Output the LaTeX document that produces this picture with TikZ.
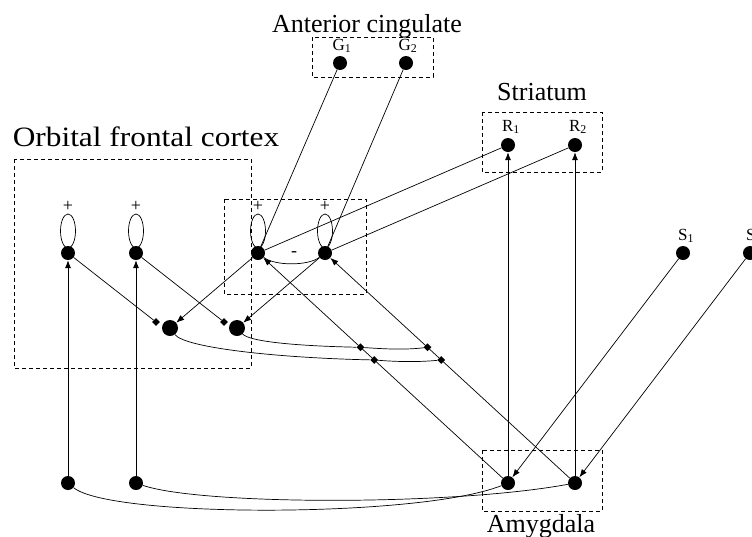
\documentclass[tikz,border=0pt]{standalone}
\usepackage{fontspec}
\setmainfont{Liberation Serif}
\usetikzlibrary{arrows.meta,shapes.geometric,calc}
\begin{document}
\begin{tikzpicture}[x=1pt,y=-1pt,
  cell/.style={circle,fill=black,inner sep=0pt,minimum size=14pt},
  bigcell/.style={circle,fill=black,inner sep=0pt,minimum size=16pt},
  syn/.style={diamond,fill=black,inner sep=0pt,minimum size=8pt},
  conn/.style={line width=0.7pt},
  arr/.style={conn,-{Latex[length=8pt,width=6pt]}},
  region/.style={draw,line width=0.8pt,dash pattern=on 4pt off 3pt},
  areatitle/.style={font=\fontsize{26}{26}\selectfont,inner sep=0pt,anchor=base},
  cellname/.style={font=\fontsize{17}{17}\selectfont,inner sep=0pt},
  sign/.style={font=\fontsize{18}{18}\selectfont,inner sep=0pt}
]
\useasboundingbox (0,0) rectangle (752,536);

% regions
\draw[region] (312,37) rectangle (433,77);
\draw[region] (482,112) rectangle (602,172);
\draw[region] (14,159) rectangle (251,368);
\draw[region] (224,199) rectangle (366,294);
\draw[region] (482,450) rectangle (602,511);

\node[areatitle] (tAC) at (367,32) {Anterior cingulate};
\node[areatitle] (tSt) at (542,100) {Striatum};
\node[areatitle,font=\fontsize{28}{28}\selectfont,xscale=1.12] (tOFC) at (146,146) {Orbital frontal cortex};
\node[areatitle] (tAm) at (541,532) {Amygdala};

% cells
\node[cell] (A1) at (68,253) {};
\node[cell] (A2) at (136,253) {};
\node[cell] (B1) at (258,253) {};
\node[cell] (B2) at (325,253) {};
\node[cell] (G1) at (340,63) {};
\node[cell] (G2) at (406,63) {};
\node[cell] (R1) at (508,145) {};
\node[cell] (R2) at (575,145) {};
\node[cell] (S1) at (683,253) {};
\node[cell] (S2) at (750,253) {};
\node[cell] (Am1) at (508,483) {};
\node[cell] (Am2) at (575,483) {};
\node[cell] (C1) at (68,483) {};
\node[cell] (C2) at (136,483) {};
\node[bigcell] (D1) at (170,328) {};
\node[bigcell] (D2) at (237,328) {};
\node[syn] (a1d) at (156,322) {};
\node[syn] (a2d) at (224,322) {};

% cell names
\node[cellname] (lG1) at (342,46) {G\textsubscript{1}};
\node[cellname] (lG2) at (408,46) {G\textsubscript{2}};
\node[cellname] (lR1) at (511,127) {R\textsubscript{1}};
\node[cellname] (lR2) at (578,127) {R\textsubscript{2}};
\node[cellname] (lS1) at (686,236) {S\textsubscript{1}};
\node[cellname] (lS2) at (754,236) {S\textsubscript{2}};

% self-excitatory loops
\foreach \c/\n in {A1/1,A2/2,B1/3,B2/4}{
  \draw[conn] ($(\c)+(0,-22)$) ellipse [x radius=7.5pt, y radius=17pt];
  \node[sign] (plus\n) at ($(\c)+(0,-47)$) {+};
}
\draw[conn] (B1) .. controls (275,266) and (308,266) .. (B2);
\node[sign] (minus) at (294,254) {-};

% connections
\draw[arr] (C1) -- (A1);
\draw[arr] (C2) -- (A2);
\draw[arr] (Am1) -- (R1);
\draw[arr] (Am2) -- (R2);
\draw[conn] (A1) -- (a1d);
\draw[conn] (A2) -- (a2d);
\draw[arr] (B1) -- (D1);
\draw[arr] (B2) -- (D2);
\draw[conn] (G1) -- (B1);
\draw[conn] (G2) -- (B2);
\draw[conn] (R1) -- (B1);
\draw[conn] (R2) -- (B2);
\draw[arr] (S1) -- (Am1);
\draw[arr] (S2) -- (Am2);
\draw[arr] (Am1) -- (B1);
\draw[arr] (Am2) -- (B2);

% gating synapses on amygdala-to-OFC paths
\node[syn] (j1) at ($(Am1)!0.59!(B1)$) {};
\node[syn] (j2) at ($(Am2)!0.59!(B2)$) {};
\node[syn] (k1) at ($(Am1)!0.535!(B1)$) {};
\node[syn] (k2) at ($(Am2)!0.535!(B2)$) {};

\draw[conn] (D2) .. controls (250,342) and (300,346) .. (j1) .. controls (385,349) and (405,350) .. (j2);
\draw[conn] (D1) .. controls (185,348) and (280,358) .. (k1) .. controls (400,362) and (420,362) .. (k2);

% amygdala feedback
\draw[conn] (C1) .. controls (110,518) and (420,518) .. (Am1);
\draw[conn] (C2) .. controls (200,505) and (450,506) .. (Am2);
\end{tikzpicture}
\end{document}
